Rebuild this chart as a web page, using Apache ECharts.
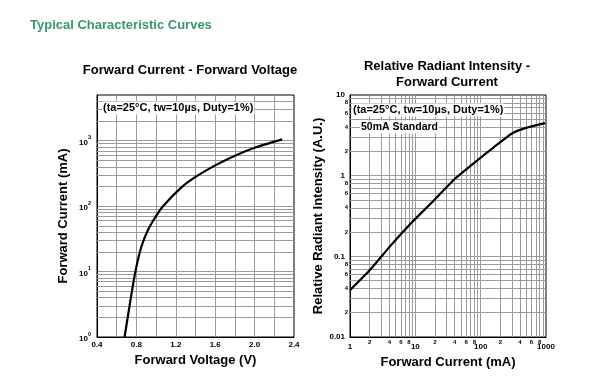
<!DOCTYPE html>
<html><head><meta charset="utf-8">
<script src="https://cdn.jsdelivr.net/npm/echarts@6/dist/echarts.min.js"></script>
<style>html,body{margin:0;padding:0;background:#fff}#c{width:589px;height:391px}</style>
</head><body><div id="c"></div>
<script>
// ---- data ----
const pageTitle = 'Typical Characteristic Curves';
const leftTitle = 'Forward Current - Forward Voltage';
const rightTitle = 'Relative Radiant Intensity -\nForward Current';
const conditionNote = '(ta=25\u00B0C, tw=10\u00B5s, Duty=1%)';
const standardNote = '50mA Standard';

const vfVoltage = [0.68, 0.735, 0.79, 0.85, 0.92, 0.99, 1.07, 1.26, 1.40, 1.60, 1.80, 2.00, 2.28];
const vfCurrent = [1, 3.3, 10, 24, 44, 67, 100, 195, 280, 420, 590, 780, 1050];

const riCurrent = [1, 2, 4, 8.3, 19, 40, 87, 157, 300, 480, 968];
const riIntensity = [0.038, 0.067, 0.13, 0.25, 0.49, 0.91, 1.53, 2.23, 3.33, 3.88, 4.48];

const vfXTickLabels = ['0.4', '0.8', '1.2', '1.6', '2.0', '2.4'];
const vfYDecades = [1, 10, 100, 1000];
const riXDecades = [1, 10, 100];
const riYDecades = [0.01, 0.1, 1];
const minorSteps = [2, 3, 4, 5, 6, 7, 8, 9];
const minorLabelSteps = [2, 4, 6, 8];

// ---- helpers ----
const FONT = '"Liberation Sans", Arial, sans-serif';
const GRID_C = '#9a9a9a';
function minorLines(decades, axisKey, maxV, withLabels) {
  const out = [];
  decades.forEach(d => minorSteps.forEach(s => {
    const v = d * s;
    if (v >= maxV) return;
    const item = {};
    item[axisKey] = v;
    item.label = { show: withLabels && minorLabelSteps.includes(s), formatter: String(s) };
    out.push(item);
  }));
  return out;
}
function markLineCfg(data) {
  return {
    symbol: ['none', 'none'], silent: true, animation: false,
    lineStyle: { color: GRID_C, width: 1, type: 'solid' },
    label: { position: 'start', distance: 2, fontSize: 6, fontWeight: 'bold', color: '#000', fontFamily: FONT },
    emphasis: { disabled: true },
    data: data
  };
}
const zip = (a, b) => a.map((v, i) => [v, b[i]]);
const numStr = v => String(parseFloat(Number(v).toPrecision(6)));

const axisCommon = {
  axisLine: { show: true, lineStyle: { color: '#000', width: 1 } },
  axisTick: { show: false },
  nameLocation: 'middle',
  nameTextStyle: { fontSize: 13, fontWeight: 'bold', color: '#000', fontFamily: FONT },
};
const splitCommon = { show: true, showMinLine: false, showMaxLine: false, lineStyle: { color: GRID_C, width: 1 } };

const chart = echarts.init(document.getElementById('c'), null, { renderer: 'canvas' });
chart.setOption({
  animation: false,
  backgroundColor: '#fff',
  textStyle: { fontFamily: FONT },
  grid: [
    { left: 97, top: 95, width: 197, height: 242, show: true, borderColor: '#000', borderWidth: 1, backgroundColor: 'transparent' },
    { left: 350, top: 95, width: 196, height: 242, show: true, borderColor: '#000', borderWidth: 1, backgroundColor: 'transparent' }
  ],
  xAxis: [
    Object.assign({}, axisCommon, {
      type: 'value', gridIndex: 0, min: 0.4, max: 2.4, interval: 0.2,
      name: 'Forward Voltage (V)', nameGap: 17,
      axisLabel: { fontSize: 8, fontWeight: 'bold', color: '#000', margin: 4,
        formatter: v => { const t = Number(v).toFixed(1); return vfXTickLabels.includes(t) ? t : ''; } },
      splitLine: splitCommon
    }),
    Object.assign({}, axisCommon, {
      type: 'log', logBase: 10, gridIndex: 1, min: 1, max: 1000,
      name: 'Forward Current (mA)', nameGap: 17,
      axisLabel: { fontSize: 8, fontWeight: 'bold', color: '#000', margin: 6, formatter: v => numStr(v) },
      splitLine: splitCommon
    })
  ],
  yAxis: [
    Object.assign({}, axisCommon, {
      type: 'log', logBase: 10, gridIndex: 0, min: 1, max: 5000,
      name: 'Forward Current (mA)', nameGap: 27,
      axisLabel: { color: '#000', margin: 6, showMaxLabel: false,
        formatter: v => '{b|10}{s|' + Math.round(Math.log10(v)) + '}',
        rich: {
          b: { fontSize: 8, fontWeight: 'bold', color: '#000', lineHeight: 12, verticalAlign: 'bottom', fontFamily: FONT },
          s: { fontSize: 5.5, fontWeight: 'bold', color: '#000', lineHeight: 7, verticalAlign: 'top', fontFamily: FONT }
        } },
      splitLine: splitCommon
    }),
    Object.assign({}, axisCommon, {
      type: 'log', logBase: 10, gridIndex: 1, min: 0.01, max: 10,
      name: 'Relative Radiant Intensity (A.U.)', nameGap: 25,
      axisLabel: { fontSize: 8, fontWeight: 'bold', color: '#000', margin: 5, formatter: v => numStr(v) },
      splitLine: splitCommon
    })
  ],
  series: [
    { type: 'line', xAxisIndex: 0, yAxisIndex: 0, data: [], z: 1, silent: true,
      markLine: markLineCfg(minorLines(vfYDecades, 'yAxis', 5000, false)) },
    { type: 'line', xAxisIndex: 1, yAxisIndex: 1, data: [], z: 1, silent: true,
      markLine: markLineCfg(minorLines(riYDecades, 'yAxis', 10, true).concat(minorLines(riXDecades, 'xAxis', 1000, true))) },
    { type: 'line', xAxisIndex: 0, yAxisIndex: 0, data: zip(vfVoltage, vfCurrent), smooth: 0.3,
      showSymbol: false, lineStyle: { color: '#000', width: 2.2 }, z: 5 },
    { type: 'line', xAxisIndex: 1, yAxisIndex: 1, data: zip(riCurrent, riIntensity), smooth: 0.15,
      showSymbol: false, lineStyle: { color: '#000', width: 2.2 }, z: 5 }
  ],
  graphic: [
    { type: 'text', z: 100, style: { text: pageTitle, x: 30, y: 25, verticalAlign: 'middle', fill: '#36996b', fontSize: 13, fontWeight: 'bold', fontFamily: FONT } },
    { type: 'text', z: 100, style: { text: leftTitle, x: 190, y: 70, align: 'center', verticalAlign: 'middle', fill: '#000', fontSize: 13, fontWeight: 'bold', fontFamily: FONT } },
    { type: 'text', z: 100, style: { text: rightTitle, x: 447, y: 74, align: 'center', verticalAlign: 'middle', lineHeight: 16, fill: '#000', fontSize: 13, fontWeight: 'bold', fontFamily: FONT } },
    { type: 'text', z: 100, style: { text: conditionNote, x: 102, y: 108, verticalAlign: 'middle', fill: '#000', fontSize: 11, fontWeight: 'bold', fontFamily: FONT, backgroundColor: '#fff', padding: [1, 1] } },
    { type: 'text', z: 100, style: { text: conditionNote, x: 352, y: 110, verticalAlign: 'middle', fill: '#000', fontSize: 11, fontWeight: 'bold', fontFamily: FONT, backgroundColor: '#fff', padding: [1, 1] } },
    { type: 'text', z: 100, style: { text: standardNote, x: 360, y: 127, verticalAlign: 'middle', fill: '#000', fontSize: 10.5, fontWeight: 'bold', fontFamily: FONT, backgroundColor: '#fff', padding: [1, 1] } }
  ]
});
</script></body></html>
